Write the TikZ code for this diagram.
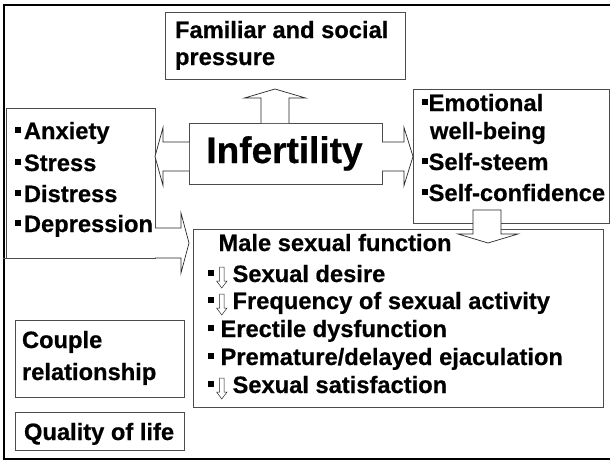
\documentclass[tikz,border=0pt]{standalone}
\usepackage{fontspec}
\setmainfont{Liberation Sans}
\newfontfamily\heavy{Liberation Sans Bold}[FakeBold=0.6]
\usetikzlibrary{calc}
\newcommand{\bul}{\rule[0.26em]{0.25em}{0.25em}}
\newcommand{\sdown}[1]{\draw[sarrow] ($(#1.base west)+(11.5,-15)$) -- ++(4.6,0) -- ++(0,14) -- ++(2.9,0) -- ++(-5.2,7) -- ++(-5.2,-7) -- ++(2.9,0) -- cycle;}
\begin{document}
\begin{tikzpicture}[x=1pt,y=-1pt,
  box/.style={draw=black!70, line width=0.9pt, inner sep=0pt, outer sep=0pt},
  barrow/.style={draw=black!85, line width=0.7pt, fill=white, line join=miter},
  txt/.style={anchor=base west, inner sep=0pt, outer sep=0pt, font=\fontsize{23.7}{28}\selectfont\heavy},
  bigtxt/.style={anchor=base, inner sep=0pt, outer sep=0pt, font=\fontsize{37}{44}\selectfont\heavy},
  sarrow/.style={draw=black!85, line width=0.5pt, fill=white}]
\useasboundingbox (0,0) rectangle (610,461);
\draw[line width=2pt] (4.3,5.3) rectangle (616,459.3);

% boxes
\node[box, minimum width=240pt, minimum height=67pt] (fam) at (285,45.5) {};
\node[box, minimum width=193pt, minimum height=61pt] (inf) at (285.5,153.5) {};
\node[box, minimum width=149pt, minimum height=150pt] (lbox) at (80.5,183) {};
\node[box, minimum width=196pt, minimum height=134pt] (rbox) at (511,156) {};
\node[box, minimum width=410pt, minimum height=178pt] (male) at (398,318) {};
\node[box, minimum width=169pt, minimum height=77pt] (couple) at (99.5,358.5) {};
\node[box, minimum width=169pt, minimum height=38pt] (qual) at (99.5,431) {};
\draw[box] (lbox.south west) -- ++(-3,0);

% block arrows
\draw[barrow] ($(inf.north)+(-24.5,0)$) -- ++(0,-25) -- ++(-16.5,0) -- ++(30.5,-9) -- ++(30.5,9) -- ++(-16.5,0) -- ++(0,25);
\draw[barrow] ($(inf.west)+(0,-11.5)$) -- ++(-26,0) -- ++(0,-14.5) -- ++(-8,29) -- ++(8,29) -- ++(0,-14.5) -- ++(26,0);
\draw[barrow] ($(inf.east)+(0,-11.5)$) -- ++(22,0) -- ++(0,-14.5) -- ++(9,29) -- ++(-9,29) -- ++(0,-14.5) -- ++(-22,0);
\draw[barrow] ($(rbox.south)+(-38,-13)$) -- ++(28,0) -- ++(0,24) -- ++(17,0) -- ++(-30,9) -- ++(-30,-9) -- ++(15,0) -- cycle;
\draw[barrow] (lbox.south east) -- ++(26,0) -- ++(0,15) -- ++(8,-30) -- ++(-8,-30) -- ++(0,15) -- ++(-26,0);

% texts
\node[txt] (f1) at (175,38) {Familiar and social};
\node[txt] (f2) at (175,65) {pressure};
\node[bigtxt] (it) at (284.5,163) {Infertility};

\node[txt] (l1) at (15,139) {\bul\kern3pt Anxiety};
\node[txt] (l2) at (15,171) {\bul\kern3pt Stress};
\node[txt] (l3) at (15,202) {\bul\kern3pt Distress};
\node[txt] (l4) at (15,232) {\bul\kern3pt Depression};

\node[txt] (r1) at (421.7,111) {\bul\kern1pt Emotional};
\node[txt] (r2) at (430,139) {well-being};
\node[txt] (r3) at (421.7,170) {\bul\kern1pt Self-steem};
\node[txt] (r4) at (421.7,201) {\bul\kern1pt Self-confidence};

\node[txt] (m0) at (218.5,251) {Male sexual function};
\node[txt] (m1) at (208,282) {\bul\hspace{18.6pt}Sexual desire};
\node[txt] (m2) at (208,309) {\bul\hspace{18.6pt}Frequency of sexual activity};
\node[txt] (m3) at (208,337) {\bul{} Erectile dysfunction};
\node[txt] (m4) at (208,365) {\bul{} Premature/delayed ejaculation};
\node[txt] (m5) at (208,393) {\bul\hspace{18.6pt}Sexual satisfaction};
\sdown{m1}
\sdown{m2}
\sdown{m5}

\node[txt] (c1) at (22,348) {Couple};
\node[txt] (c2) at (22,380) {relationship};
\node[txt] (q1) at (24,440) {Quality of life};
\end{tikzpicture}
\end{document}
